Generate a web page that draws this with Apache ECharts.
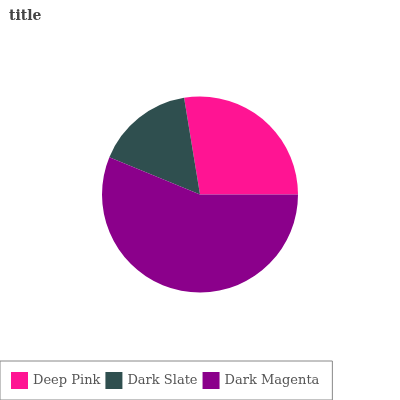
<!DOCTYPE html>
<html>
<head>
<meta charset="utf-8">
<script src="https://cdn.jsdelivr.net/npm/echarts@6/dist/echarts.min.js"></script>
<style>
html, body { margin: 0; padding: 0; background: #fff; }
#main { width: 400px; height: 400px; }
</style>
</head>
<body>
<div id="main"></div>
<script>
// data
var categories = ['Deep Pink', 'Dark Slate', 'Dark Magenta'];
var values = [27.6, 16.2, 56.2];
var colors = ['#ff1493', '#2f4f4f', '#8b008b'];

var chart = echarts.init(document.getElementById('main'));

var pieData = categories.map(function (name, i) {
	return { name: name, value: values[i], itemStyle: { color: colors[i] } };
});

var option = {
	backgroundColor: '#fff',
	animation: false,
	title: {
		text: 'title',
		left: 4,
		top: 4,
		textStyle: {
			fontFamily: 'DejaVu Serif',
			fontSize: 14,
			fontWeight: 'bold',
			color: '#444'
		}
	},
	legend: {
		data: categories,
		left: 0,
		bottom: 0,
		orient: 'horizontal',
		padding: [11, 13, 11, 11],
		itemWidth: 17,
		itemHeight: 17,
		itemGap: 5,
		borderColor: '#888',
		borderWidth: 1,
		icon: 'rect',
		textStyle: {
			fontFamily: 'DejaVu Serif',
			fontSize: 13,
			color: '#555'
		}
	},
	series: [{
		type: 'pie',
		center: [200, 194.5],
		radius: 98,
		startAngle: 0,
		clockwise: false,
		label: { show: false },
		labelLine: { show: false },
		emphasis: { disabled: true },
		data: pieData
	}]
};
chart.setOption(option);
</script>
</body>
</html>
